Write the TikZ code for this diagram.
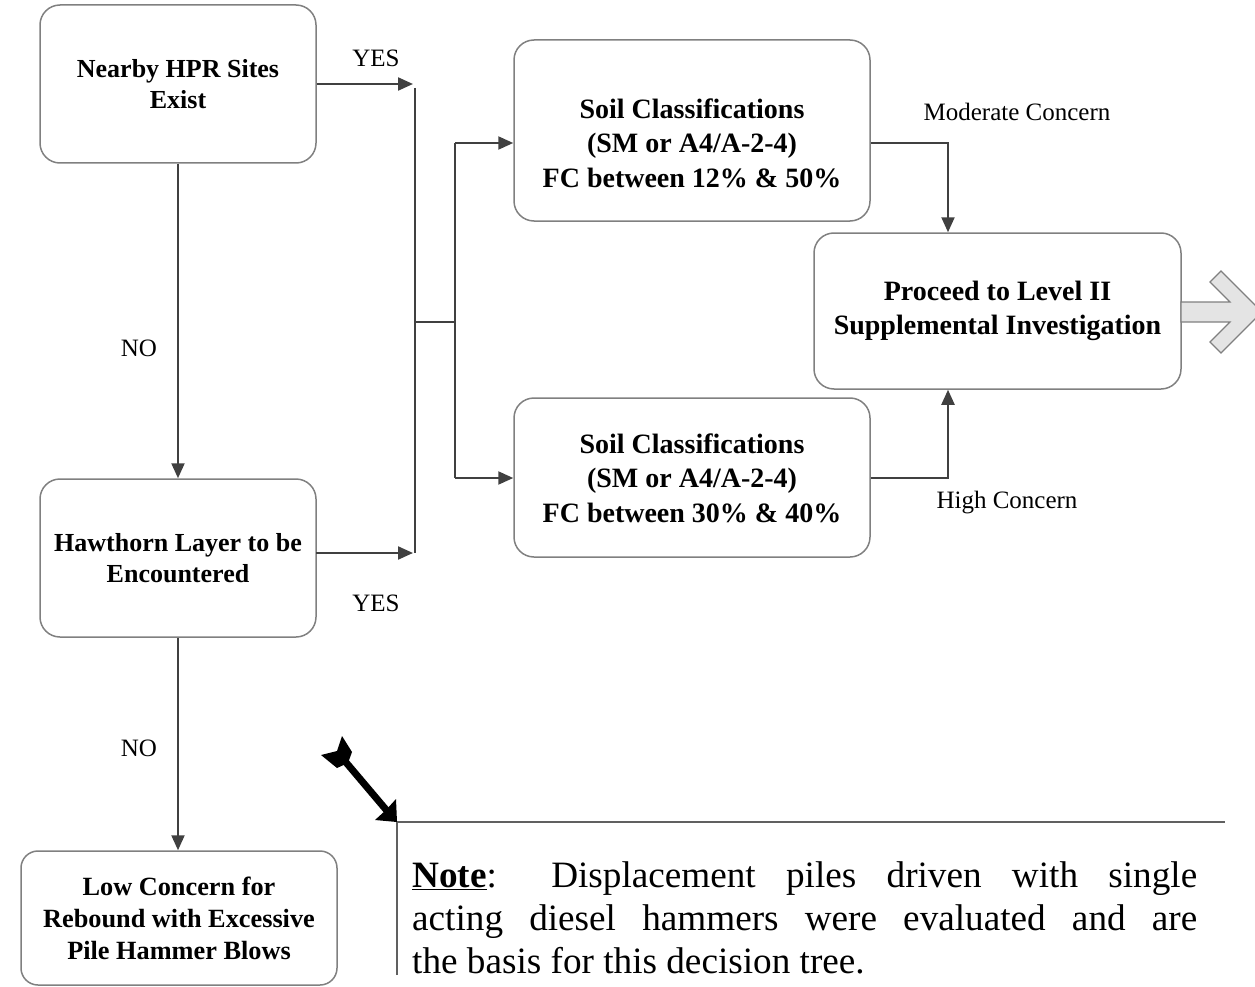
\documentclass[tikz,border=0pt]{standalone}
\usepackage{fontspec}
\setmainfont{Liberation Serif}
\usetikzlibrary{arrows.meta}
\definecolor{boxgray}{HTML}{808080}
\definecolor{conncol}{HTML}{404040}
\definecolor{bigfill}{HTML}{E4E4E4}
\definecolor{notecol}{HTML}{606060}
\begin{document}
\begin{tikzpicture}[x=1pt,y=-1pt,
  box/.style={draw=boxgray, line width=1.5pt, rounded corners=20pt, inner sep=0pt},
  conn/.style={draw=conncol, line width=2.2pt},
  arr/.style={conn, -{Triangle[length=15pt,width=13pt]}},
  lbl/.style={font=\fontsize{25}{30}\selectfont, inner sep=0pt},
  btA/.style={font=\fontsize{26}{31}\selectfont\bfseries, align=center, inner sep=0pt},
  btD/.style={font=\fontsize{28}{34.5}\selectfont\bfseries, align=center, inner sep=0pt},
  btC/.style={font=\fontsize{26.3}{32}\selectfont\bfseries, align=center, inner sep=0pt},
  notetxt/.style={font=\fontsize{37.2}{44}\selectfont, inner sep=0pt, anchor=base west},
]
\useasboundingbox (0,0) rectangle (1255,987);

% boxes
\node[box, minimum width=276pt, minimum height=158pt] (A) at (178,84) {};
\node[btA] (At) at (178,84) {Nearby HPR Sites\\Exist};
\node[box, minimum width=276pt, minimum height=158pt] (B) at (178,558) {};
\node[btA] (Bt) at (178,558) {Hawthorn Layer to be\\Encountered};
\node[box, rounded corners=17pt, minimum width=316pt, minimum height=134pt] (C) at (179,918) {};
\node[btC] (Ct) at (179,918.5) {Low Concern for\\Rebound with Excessive\\Pile Hammer Blows};
\node[box, minimum width=356pt, minimum height=181pt] (D) at (692,130.5) {};
\node[btD] (Dt) at (692,143) {Soil Classifications\\(SM or A4/A-2-4)\\FC between 12\% \& 50\%};
\node[box, minimum width=356pt, minimum height=159pt] (E) at (692,477.5) {};
\node[btD] (Et) at (692,478) {Soil Classifications\\(SM or A4/A-2-4)\\FC between 30\% \& 40\%};
\node[box, minimum width=367pt, minimum height=156pt] (F) at (997.5,311) {};
\node[btD] (Ft) at (997.5,311) {Proceed to Level II\\Supplemental Investigation};

% big gray arrow
\filldraw[fill=bigfill, draw=boxgray, line width=1.2pt]
  (1181,302) -- (1230,302) -- (1210,282) -- (1221,271) -- (1262,312)
  -- (1221,353) -- (1210,342) -- (1230,322) -- (1181,322) -- cycle;

% junction coordinates
\coordinate (j1) at (413,84);
\coordinate (b1) at (316,553);
\coordinate (j2) at (413,553);
\coordinate (v1) at (415,88);
\coordinate (v2) at (415,553);
\coordinate (m1) at (415,322);
\coordinate (m2) at (455,322);
\coordinate (s1) at (455,143);
\coordinate (s2) at (455,478);
\coordinate (k) at (948,143);

% connectors
\draw[arr] (A.south) -- (B.north);
\draw[arr] (B.south) -- (B.south |- C.north);
\draw[arr] (A.east) -- (j1);
\draw[arr] (b1) -- (j2);
\draw[conn] (v1) -- (v2);
\draw[conn] (m1) -- (m2);
\draw[conn] (s1) -- (s2);
\draw[arr] (s1) -- (Dt.center -| D.west);
\draw[arr] (s2) -- (Et.center -| E.west);
\draw[arr] (Dt.center -| D.east) -| (k |- F.north);
\draw[arr] (Et.center -| E.east) -| (k |- F.south);

% labels
\node[lbl] (yes1) at (376,58) {YES};
\node[lbl] (yes2) at (376,603) {YES};
\node[lbl] (no1) at (139,348) {NO};
\node[lbl] (no2) at (139,748) {NO};
\node[lbl] (mod) at (1017,112) {Moderate Concern};
\node[lbl] (high) at (1007,503) {High Concern};

% note frame
\coordinate (nc) at (397,822);
\draw[notecol, line width=2pt] (397,975) -- (nc) -- (1225,822);

% black pointing arrow
\draw[black, line width=7pt] (344,760) -- (388,812);
\fill[black] (397,822) -- (375,820) -- (386,810) -- (396,799) -- cycle;
\fill[black] (342,736) -- (352,752) -- (348,763) -- (337,768) -- (321,755) -- (337,751) -- cycle;

% note text
\node[notetxt] (n1) at (412,887) {\makebox[785pt][s]{\underline{\textbf{Note}}: Displacement piles driven with single}};
\node[notetxt] (n2) at (412,930) {\makebox[785pt][s]{acting diesel hammers were evaluated and are}};
\node[notetxt] (n3) at (412,973) {the basis for this decision tree.};
\end{tikzpicture}
\end{document}
